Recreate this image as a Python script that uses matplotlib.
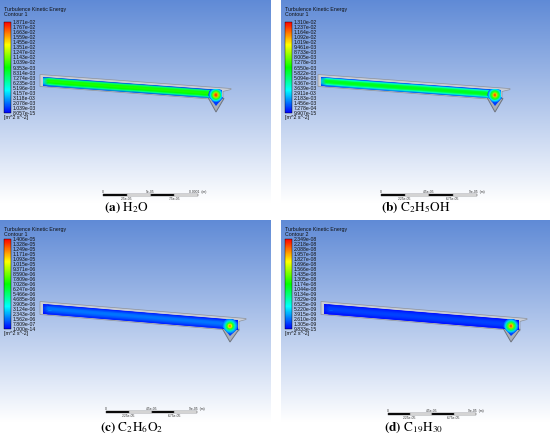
import numpy as np
import matplotlib.pyplot as plt
from matplotlib.colors import LinearSegmentedColormap, Normalize
from matplotlib.patches import Polygon, Rectangle
from matplotlib.cm import ScalarMappable

plt.rcParams['mathtext.fontset'] = 'stix'
plt.rcParams['font.family'] = ['Liberation Sans', 'DejaVu Sans']

# ---- data ----
captions = [r"$\mathbf{(a)}\ \mathrm{H_2O}$", r"$\mathbf{(b)}\ \mathrm{C_2H_5OH}$",
            r"$\mathbf{(c)}\ \mathrm{C_2H_6O_2}$", r"$\mathbf{(d)}\ \mathrm{C_{19}H_{30}}$"]
contour_names = ["Contour 1", "Contour 1", "Contour 1", "Contour 2"]

levels_a = ["1.871e-02", "1.767e-02", "1.663e-02", "1.559e-02", "1.455e-02", "1.351e-02",
            "1.247e-02", "1.143e-02", "1.039e-02", "9.353e-03", "8.314e-03", "7.274e-03",
            "6.235e-03", "5.196e-03", "4.157e-03", "3.118e-03", "2.078e-03", "1.039e-03",
            "8.057e-15"]
levels_b = ["1.310e-02", "1.237e-02", "1.164e-02", "1.092e-02", "1.019e-02", "9.461e-03",
            "8.733e-03", "8.005e-03", "7.278e-03", "6.550e-03", "5.822e-03", "5.094e-03",
            "4.367e-03", "3.639e-03", "2.911e-03", "2.183e-03", "1.456e-03", "7.278e-04",
            "9.907e-15"]
levels_c = ["1.406e-05", "1.328e-05", "1.249e-05", "1.171e-05", "1.093e-05", "1.015e-05",
            "9.371e-06", "8.590e-06", "7.809e-06", "7.028e-06", "6.247e-06", "5.466e-06",
            "4.685e-06", "3.905e-06", "3.124e-06", "2.343e-06", "1.562e-06", "7.809e-07",
            "1.000e-14"]
levels_d = ["2.349e-08", "2.218e-08", "2.088e-08", "1.957e-08", "1.827e-08", "1.696e-08",
            "1.566e-08", "1.435e-08", "1.305e-08", "1.174e-08", "1.044e-08", "9.134e-09",
            "7.829e-09", "6.525e-09", "5.220e-09", "3.915e-09", "2.610e-09", "1.305e-09",
            "9.833e-15"]

scale_top_a = ["0", "5e-05", "0.0001", "(m)"]
scale_bot_a = ["2.5e-05", "7.5e-05"]
scale_top_b = ["0", "4.5e-05", "9e-05", "(m)"]
scale_bot_b = ["2.25e-05", "6.75e-05"]

# k / k_max across the channel (top wall -> bottom wall)
beam_a = [0.05, 0.38, 0.52, 0.53, 0.50, 0.35, 0.05]
beam_b = [0.05, 0.30, 0.45, 0.48, 0.45, 0.30, 0.05]
beam_c = [0.02, 0.07, 0.11, 0.12, 0.10, 0.07, 0.02]
beam_d = [0.01, 0.04, 0.06, 0.07, 0.06, 0.04, 0.01]
# k / k_max in the outlet hot spot, centre -> outside
hot_a = [1.00, 0.85, 0.65, 0.45, 0.25, 0.05]
hot_b = [1.00, 0.80, 0.60, 0.45, 0.25, 0.08]
hot_c = [0.95, 0.75, 0.55, 0.35, 0.20, 0.10]
hot_d = [1.00, 0.80, 0.60, 0.40, 0.22, 0.08]

levels = [levels_a, levels_b, levels_c, levels_d]
scales = [(scale_top_a, scale_bot_a), (scale_top_b, scale_bot_b),
          (scale_top_b, scale_bot_b), (scale_top_b, scale_bot_b)]
beams = [beam_a, beam_b, beam_c, beam_d]
hots = [hot_a, hot_b, hot_c, hot_d]

# ---- layout (pixels) ----
W, H = 550, 440
panels = [(0, 0, 271, 203), (281, 0, 269, 203), (0, 220, 271, 202), (281, 220, 269, 202)]
geo_top = dict(x0=43, x1=222, y0=77, slope=0.0745, th=9, hx=216, hy=95, hr=7.0,
               fl=209, fr=223, tip=(216, 111), fx1=231, bar=(103, 198, 195), cb=(22, 113))
geo_bot = dict(x0=43, x1=238, y0=84, slope=0.0837, th=10, hx=230, hy=106, hr=7.0,
               fl=223, fr=238, tip=(230, 121), fx1=246, bar=(106, 197, 192), cb=(19, 109))
geos = [geo_top, dict(geo_top, x0=40, x1=220, hx=214, fl=207, fr=221, tip=(214, 111), fx1=229,
                      bar=(100, 196, 195)),
        geo_bot, dict(geo_bot, bar=(107, 195, 194))]
cap_x = [126, 416, 132, 414]
cap_y = [208, 208, 428, 428]

ansys = LinearSegmentedColormap.from_list(
    "ansys", ["#0000ff", "#00ffff", "#00ff00", "#ffff00", "#ff0000"])
bg = LinearSegmentedColormap.from_list("bg", ["#5f8ad6", "#ffffff"])

fig = plt.figure(figsize=(5.5, 4.4), dpi=100)


def rect(x, y, w, h):
    return [x / W, 1 - (y + h) / H, w / W, h / H]


for i, (px, py, pw, ph) in enumerate(panels):
    g = geos[i]
    ax = fig.add_axes(rect(px, py, pw, ph))
    ax.set_xlim(0, pw)
    ax.set_ylim(ph, 0)
    ax.axis("off")
    ax.imshow(np.linspace(0, 1, 256)[:, None], extent=[0, pw, ph, 0], aspect="auto",
              cmap=bg, zorder=0)

    x0, x1, y0, s, th = g["x0"], g["x1"], g["y0"], g["slope"], g["th"]
    top = lambda x: y0 + s * (x - x0)

    # grey geometry frame (thin outline of the solid)
    fx1 = g["fx1"]
    frame = Polygon([(x0 - 3, top(x0) - 2.5), (fx1, top(fx1) - 2.5), (fx1, top(fx1) - 1.5),
                     (x1 + 1, top(x1 + 1) + 1), (x1 + 1, top(x1 + 1) + th + 0.5),
                     (x0 - 3, top(x0) + th + 0.5)],
                    closed=True, facecolor="#c9cdd5", edgecolor="#8d929b", lw=0.5, zorder=1)
    ax.add_patch(frame)

    # outlet funnel
    tx, ty = g["tip"]
    funnel = Polygon([(g["fl"] - 1, top(g["fl"]) + th - 1), (g["fr"] + 1, top(g["fr"]) + th - 1),
                      (tx, ty + 1)], closed=True, facecolor="#a9aeb7", edgecolor="#6f747d",
                     lw=0.7, zorder=1)
    ax.add_patch(funnel)
    funnel_in = Polygon([(g["fl"], top(g["fl"]) + th - 2), (g["fr"], top(g["fr"]) + th - 2),
                         (tx, ty - 5)], closed=True, facecolor=ansys(0.06), edgecolor="none",
                        zorder=2)
    ax.add_patch(funnel_in)

    # channel field
    prof = beams[i]
    u = np.array([x0, x0 + 5, x1 - 6, x1])
    along = np.array([0.4, 1.0, 1.0, 0.6])
    v = np.linspace(0, th, len(prof))
    X = np.tile(u, (len(prof), 1))
    Y = np.array([[top(xx) + vv for xx in u] for vv in v])
    C = np.outer(prof, along)
    beam_poly = Polygon([(x0, top(x0)), (x1, top(x1)), (x1, top(x1) + th), (x0, top(x0) + th)],
                        closed=True, facecolor="none", edgecolor="none")
    ax.add_patch(beam_poly)
    mesh = ax.pcolormesh(X, Y, C, cmap=ansys, vmin=0, vmax=1, shading="gouraud", zorder=3)
    mesh.set_clip_path(beam_poly)

    # hot spot at the outlet
    hv = hots[i]
    r = np.linspace(0, g["hr"], len(hv))
    t = np.linspace(0, 2 * np.pi, 73)
    R, T = np.meshgrid(r, t)
    HX = g["hx"] + R * np.cos(T)
    HY = g["hy"] + R * np.sin(T)
    HC = np.tile(hv, (len(t), 1))
    fluid = Polygon([(x0, top(x0)), (x1, top(x1)), (x1, top(x1) + th),
                     (g["fr"], top(g["fr"]) + th - 2), (tx, ty - 5),
                     (g["fl"], top(g["fl"]) + th - 2), (x0, top(x0) + th)],
                    closed=True, facecolor="none", edgecolor="none")
    ax.add_patch(fluid)
    hm = ax.pcolormesh(HX, HY, HC, cmap=ansys, vmin=0, vmax=1, shading="gouraud", zorder=4)
    hm.set_clip_path(fluid)

    # legend header
    ax.text(4, 11, "Turbulence Kinetic Energy", fontsize=3.8, va="baseline", color="#101010")
    ax.text(4, 15.5, contour_names[i], fontsize=3.8, va="baseline", color="#101010")
    cb0, cb1 = g["cb"]
    ax.text(4, cb1 + 6, "[m^2 s^-2]", fontsize=3.8, va="baseline", color="#101010")

    cax = fig.add_axes(rect(px + 4, py + cb0, 7, cb1 - cb0))
    sm = ScalarMappable(norm=Normalize(0, len(levels[i]) - 1), cmap=ansys)
    cbar = fig.colorbar(sm, cax=cax, ticks=range(len(levels[i])))
    cbar.ax.set_yticklabels(levels[i][::-1])
    cbar.ax.tick_params(length=0, pad=1.5, labelsize=3.7, colors="#101010")
    cbar.outline.set_linewidth(0.3)

    # scale bar
    bx0, bx1, by = g["bar"]
    seg = (bx1 - bx0) / 4
    for k in range(4):
        ax.add_patch(Rectangle((bx0 + k * seg, by - 1.3), seg, 2.6,
                               facecolor="black" if k % 2 == 0 else "white",
                               edgecolor="#333333", lw=0.3, zorder=5))
    st, sb = scales[i]
    ax.text(bx0, by - 2.5, st[0], fontsize=2.4, ha="center", va="baseline", color="#303030")
    ax.text(bx0 + 2 * seg, by - 2.5, st[1], fontsize=2.4, ha="center", va="baseline",
            color="#303030")
    ax.text(bx1, by - 2.5, st[2] + "  " + st[3], fontsize=2.4, ha="center", va="baseline",
            color="#303030")
    ax.text(bx0 + seg, by + 5, sb[0], fontsize=2.4, ha="center", va="baseline", color="#303030")
    ax.text(bx0 + 3 * seg, by + 5, sb[1], fontsize=2.4, ha="center", va="baseline",
            color="#303030")

    fig.text(cap_x[i] / W, 1 - cap_y[i] / H, captions[i], fontsize=9.5, ha="center",
             va="center", color="black")

fig.savefig("out.png", dpi=100)
